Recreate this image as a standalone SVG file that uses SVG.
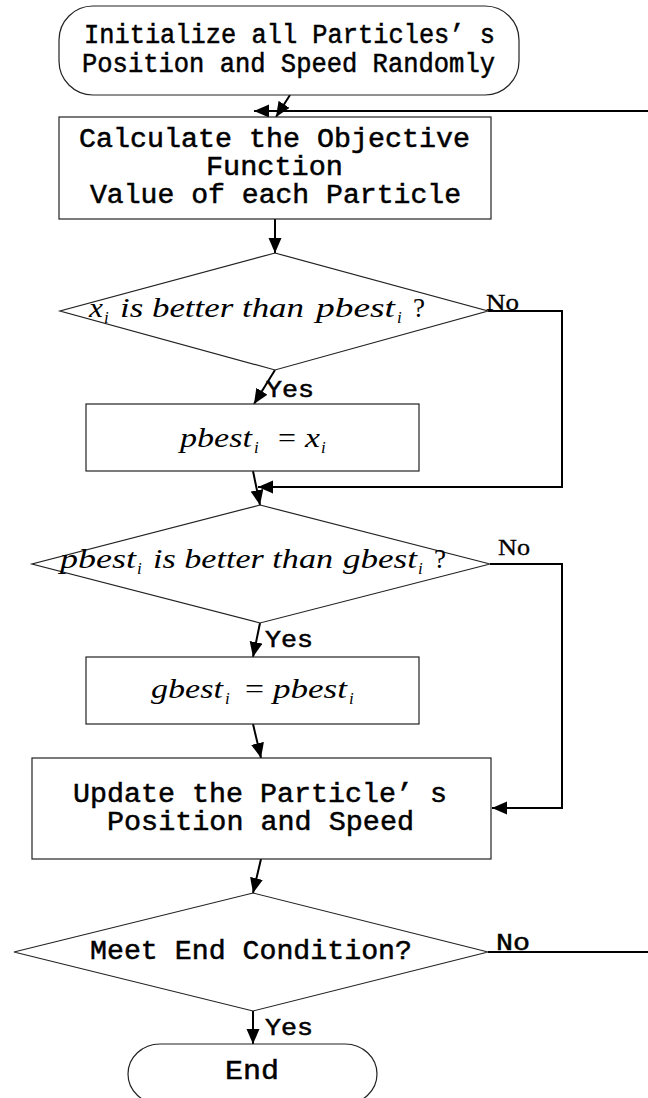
<svg xmlns="http://www.w3.org/2000/svg" width="648" height="1098" viewBox="0 0 648 1098">
<style>
.node{fill:#fff;stroke:#222;stroke-width:1.2}
.mono{font-family:"Liberation Mono",monospace;font-size:27px;fill:#000;stroke:#000;stroke-width:0.5}
.math{font-family:"Liberation Serif",serif;font-style:italic;font-size:27px;fill:#000}
.up{font-style:normal}
.sub{font-family:"Liberation Serif",serif;font-style:italic;font-size:17px;fill:#000}
.lbl{font-family:"Liberation Serif",serif;font-size:23px;fill:#000;stroke:#000;stroke-width:0.3}
.lblm{font-family:"Liberation Mono",monospace;font-size:24px;fill:#000;stroke:#000;stroke-width:0.5}
.conn{fill:none;stroke:#000;stroke-width:2}
</style>
<defs>
<marker id="arr" markerWidth="16" markerHeight="14" refX="15" refY="6.5" orient="auto" markerUnits="userSpaceOnUse">
<path d="M0,0 L15,6.5 L0,13 z" fill="#000"/>
</marker>
</defs>

<g id="connectors">
<line class="conn" x1="290" y1="95" x2="276" y2="117" marker-end="url(#arr)"/>
<line class="conn" x1="648" y1="111" x2="254" y2="111" marker-end="url(#arr)"/>
<line class="conn" x1="275" y1="219" x2="275" y2="253" marker-end="url(#arr)"/>
<line class="conn" x1="275" y1="370" x2="254" y2="404" marker-end="url(#arr)"/>
<polyline class="conn" points="488,311 562,311 562,487 258,487" marker-end="url(#arr)"/>
<line class="conn" x1="253" y1="471" x2="260" y2="505" marker-end="url(#arr)"/>
<line class="conn" x1="260" y1="623" x2="253" y2="657" marker-end="url(#arr)"/>
<polyline class="conn" points="490,564 562,564 562,808 492,808" marker-end="url(#arr)"/>
<line class="conn" x1="253" y1="724" x2="261" y2="758" marker-end="url(#arr)"/>
<line class="conn" x1="261" y1="859" x2="253" y2="893" marker-end="url(#arr)"/>
<line class="conn" x1="253" y1="1011" x2="253" y2="1044" marker-end="url(#arr)"/>
<line class="conn" x1="488" y1="952" x2="648" y2="952"/>
</g>

<g id="start">
<rect class="node" x="59" y="6" width="460" height="89" rx="34" ry="34"/>
<text class="mono" x="84" y="43" font-size="24" textLength="411" lengthAdjust="spacingAndGlyphs">Initialize all Particles’ s</text>
<text class="mono" x="82" y="72" font-size="24" textLength="413" lengthAdjust="spacingAndGlyphs">Position and Speed Randomly</text>
</g>

<g id="calc">
<rect class="node" x="59" y="117" width="432" height="102"/>
<text class="mono" x="79" y="147" textLength="391" lengthAdjust="spacingAndGlyphs">Calculate the Objective</text>
<text class="mono" x="206" y="175" textLength="137" lengthAdjust="spacingAndGlyphs">Function</text>
<text class="mono" x="90" y="203" textLength="371" lengthAdjust="spacingAndGlyphs">Value of each Particle</text>
</g>

<g id="d1">
<polygon class="node" points="275,253 488,311 275,370 60,311"/>
<text class="math" x="89" y="317" textLength="14" lengthAdjust="spacingAndGlyphs">x</text>
<text class="sub" x="104" y="323">i</text>
<text class="math" x="120" y="317" textLength="184" lengthAdjust="spacingAndGlyphs">is better than</text>
<text class="math" x="316" y="317" textLength="79" lengthAdjust="spacingAndGlyphs">pbest</text>
<text class="sub" x="397" y="323">i</text>
<text class="math up" x="413" y="317" textLength="12" lengthAdjust="spacingAndGlyphs">?</text>
<text class="lbl" x="486" y="310" textLength="33" lengthAdjust="spacingAndGlyphs">No</text>
<text class="lblm" x="266" y="397" textLength="48" lengthAdjust="spacingAndGlyphs">Yes</text>
</g>

<g id="pbest">
<rect class="node" x="86" y="404" width="333" height="67"/>
<text class="math" x="180" y="447" textLength="72" lengthAdjust="spacingAndGlyphs">pbest</text>
<text class="sub" x="254" y="453">i</text>
<text class="math up" x="278" y="447" textLength="18" lengthAdjust="spacingAndGlyphs">=</text>
<text class="math" x="305" y="447" textLength="15" lengthAdjust="spacingAndGlyphs">x</text>
<text class="sub" x="321" y="453">i</text>
</g>

<g id="d2">
<polygon class="node" points="260,505 490,564 260,623 32,564"/>
<text class="math" x="60" y="568" textLength="76" lengthAdjust="spacingAndGlyphs">pbest</text>
<text class="sub" x="137" y="574">i</text>
<text class="math" x="153" y="568" textLength="180" lengthAdjust="spacingAndGlyphs">is better than</text>
<text class="math" x="343" y="568" textLength="74" lengthAdjust="spacingAndGlyphs">gbest</text>
<text class="sub" x="418" y="574">i</text>
<text class="math up" x="434" y="568" textLength="12" lengthAdjust="spacingAndGlyphs">?</text>
<text class="lbl" x="498" y="555" textLength="32" lengthAdjust="spacingAndGlyphs">No</text>
<text class="lblm" x="265" y="647" textLength="48" lengthAdjust="spacingAndGlyphs">Yes</text>
</g>

<g id="gbest">
<rect class="node" x="86" y="657" width="333" height="67"/>
<text class="math" x="151" y="698" textLength="72" lengthAdjust="spacingAndGlyphs">gbest</text>
<text class="sub" x="225" y="704">i</text>
<text class="math up" x="245" y="698" textLength="19" lengthAdjust="spacingAndGlyphs">=</text>
<text class="math" x="273" y="698" textLength="74" lengthAdjust="spacingAndGlyphs">pbest</text>
<text class="sub" x="349" y="704">i</text>
</g>

<g id="update">
<rect class="node" x="32" y="758" width="459" height="101"/>
<text class="mono" x="73" y="802" textLength="374" lengthAdjust="spacingAndGlyphs">Update the Particle’ s</text>
<text class="mono" x="107" y="830" textLength="307" lengthAdjust="spacingAndGlyphs">Position and Speed</text>
</g>

<g id="d3">
<polygon class="node" points="253,893 488,952 253,1011 14,952"/>
<text class="mono" x="90" y="959" textLength="322" lengthAdjust="spacingAndGlyphs">Meet End Condition?</text>
<text class="lblm" x="496" y="950" textLength="34" lengthAdjust="spacingAndGlyphs">No</text>
<text class="lblm" x="265" y="1035" textLength="48" lengthAdjust="spacingAndGlyphs">Yes</text>
</g>

<g id="end">
<rect class="node" x="128" y="1044" width="249" height="60" rx="32" ry="30"/>
<text class="mono" x="225" y="1079" font-size="28" textLength="54" lengthAdjust="spacingAndGlyphs">End</text>
</g>
</svg>
